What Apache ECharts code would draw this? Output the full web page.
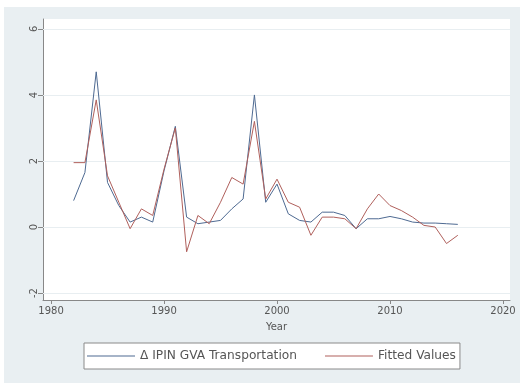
<!DOCTYPE html>
<html lang="en">
<head>
    <meta charset="UTF-8">
    <title>IPIN GVA Transportation</title>
    <script src="https://fastly.jsdelivr.net/npm/echarts@6/dist/echarts.min.js"></script>
    <style>
        html, body { margin: 0; padding: 0; background: #fff; }
    </style>
</head>
<body>
    <div id="dv" style="width:520px;height:383px;"></div>
</body>
<script>
var years = [1982, 1983, 1984, 1985, 1986, 1987, 1988, 1989, 1990, 1991,
    1992, 1993, 1994, 1995, 1996, 1997, 1998, 1999, 2000, 2001,
    2002, 2003, 2004, 2005, 2006, 2007, 2008, 2009, 2010, 2011,
    2012, 2013, 2014, 2015, 2016];

var ipinGva = [0.8, 1.65, 4.7, 1.35, 0.65, 0.15, 0.3, 0.15, 1.7, 3.05,
    0.3, 0.1, 0.15, 0.2, 0.55, 0.85, 4.0, 0.75, 1.3, 0.4,
    0.2, 0.15, 0.45, 0.45, 0.35, -0.05, 0.25, 0.25, 0.32, 0.25,
    0.15, 0.12, 0.12, 0.1, 0.08];

var fitted = [1.95, 1.95, 3.85, 1.55, 0.75, -0.05, 0.55, 0.35, 1.75, 3.0,
    -0.75, 0.35, 0.1, 0.75, 1.5, 1.3, 3.2, 0.85, 1.45, 0.75,
    0.6, -0.25, 0.3, 0.3, 0.25, -0.05, 0.55, 1.0, 0.65, 0.5,
    0.3, 0.05, 0.0, -0.5, -0.25];

var xTicks = [1980, 1990, 2000, 2010, 2020];
var yTicks = [-2, 0, 2, 4, 6];

var seriesNames = ['\u0394 IPIN GVA Transportation', 'Fitted Values'];

var font = 'DejaVu Sans, Liberation Sans, sans-serif';
var blue = '#4e6a92';
var red = '#b0605c';

var myChart = echarts.init(document.getElementById('dv'));

function pairs(vals) {
    return years.map(function (y, i) { return [y, vals[i]]; });
}

var option = {
    backgroundColor: '#fff',
    animation: false,
    graphic: [
        {
            type: 'rect',
            z: -10,
            shape: { x: 4, y: 7, width: 516, height: 376 },
            style: { fill: '#e9eff2' }
        }
    ],
    grid: {
        left: 43,
        right: 10,
        top: 19,
        bottom: 83,
        show: true,
        backgroundColor: '#fff',
        borderWidth: 0
    },
    xAxis: {
        type: 'value',
        min: 1979.29,
        max: 2020.62,
        name: 'Year',
        nameLocation: 'middle',
        nameGap: 22,
        nameTextStyle: { color: '#555', fontSize: 10, fontFamily: font },
        axisLine: { show: true, onZero: false, lineStyle: { color: '#888', width: 1 } },
        axisTick: { show: true, customValues: xTicks, length: 4, lineStyle: { color: '#888' } },
        axisLabel: {
            customValues: xTicks,
            color: '#555',
            fontSize: 10,
            fontFamily: font,
            margin: 6,
            formatter: function (v) { return String(v); }
        },
        splitLine: { show: false }
    },
    yAxis: {
        type: 'value',
        min: -2.21,
        max: 6.30,
        axisLine: { show: true, onZero: false, lineStyle: { color: '#888', width: 1 } },
        axisTick: { show: true, customValues: yTicks, length: 5, lineStyle: { color: '#888' } },
        axisLabel: { customValues: yTicks, rotate: 90, color: '#555', fontSize: 10, fontFamily: font, margin: 4 },
        splitLine: { show: false }
    },
    legend: {
        left: 84,
        top: 343,
        data: seriesNames,
        icon: 'rect',
        itemWidth: 48,
        itemHeight: 1,
        itemGap: 28,
        padding: [7, 4, 7, 3],
        backgroundColor: '#fff',
        borderColor: '#8a8a8a',
        borderWidth: 1,
        borderRadius: 0,
        textStyle: { color: '#555', fontSize: 12.2, fontFamily: font }
    },
    series: [
        {
            name: seriesNames[0],
            type: 'line',
            symbol: 'none',
            data: pairs(ipinGva),
            lineStyle: { color: blue, width: 1 },
            itemStyle: { color: blue },
            z: 3,
            markLine: {
                silent: true,
                symbol: 'none',
                label: { show: false },
                lineStyle: { color: '#e8eef1', width: 1, type: 'solid' },
                z: 1,
                data: yTicks.map(function (v) { return { yAxis: v }; })
            }
        },
        {
            name: seriesNames[1],
            type: 'line',
            symbol: 'none',
            data: pairs(fitted),
            lineStyle: { color: red, width: 1 },
            itemStyle: { color: red },
            z: 4
        }
    ]
};

myChart.setOption(option);
</script>
</html>
